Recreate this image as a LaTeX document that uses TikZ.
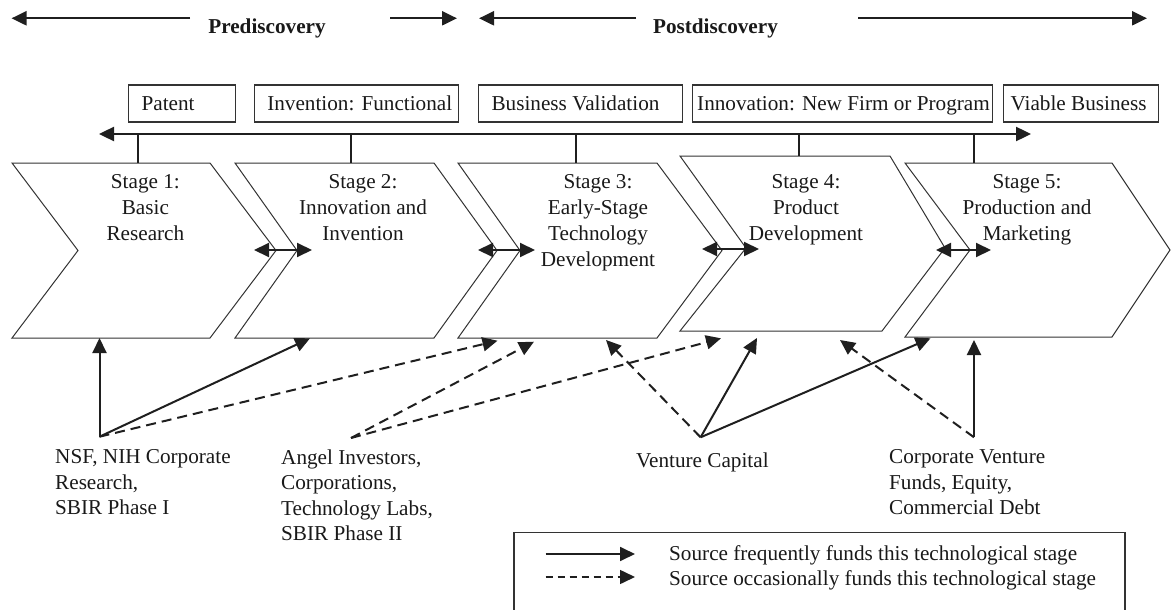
\documentclass[tikz,border=0pt]{standalone}
\usepackage{fontspec}
\setmainfont{Liberation Serif}
\usetikzlibrary{arrows.meta}
\begin{document}
\begin{tikzpicture}[x=1pt,y=-1pt,
  every node/.style={text=black!90},
  ink/.style={draw=black!88},
  tip/.style={-{Triangle[length=15pt,width=14pt]}},
  twotip/.style={{Triangle[length=15pt,width=14pt]}-{Triangle[length=15pt,width=14pt]}},
  often/.style={ink, line width=2pt, tip},
  sometimes/.style={ink, line width=2pt, tip, dash pattern=on 10pt off 6pt},
  stagebox/.style={draw=black!80, line width=1pt, line join=miter},
  milestone/.style={draw=black!80, line width=1.2pt, minimum height=37pt, inner ysep=0pt,
    text height=15pt, text depth=1pt, anchor=west, font=\fontsize{21.2}{25}\selectfont},
  stagetext/.style={font=\fontsize{21.2}{26.2}\selectfont, align=center, anchor=north,
    inner sep=0pt, execute at begin node=\strut},
  source/.style={font=\fontsize{21.2}{25.5}\selectfont, align=left, anchor=north west,
    inner sep=0pt, execute at begin node=\strut},
  heading/.style={font=\fontsize{21.2}{25}\selectfont\bfseries, anchor=base, inner sep=0pt},
  legendtext/.style={font=\fontsize{21.2}{25}\selectfont, anchor=base west, inner sep=0pt},
]
\useasboundingbox (0,0) rectangle (1171,610);

% ---- period headings ----
\node[heading] (pre) at (267,34) {Prediscovery};
\node[heading] (post) at (715.5,34) {Postdiscovery};
\coordinate (preA) at (190,18.3);   \coordinate (preAtip) at (11.5,18.3);
\coordinate (preB) at (390,18.3);   \coordinate (preBtip) at (457,18.3);
\coordinate (postA) at (636,18.3);  \coordinate (postAtip) at (479,18.3);
\coordinate (postB) at (858,18.3);  \coordinate (postBtip) at (1147,18.3);
\draw[ink, line width=2.2pt, tip] (preA) -- (preAtip);
\draw[ink, line width=2.2pt, tip] (preB) -- (preBtip);
\draw[ink, line width=2.2pt, tip] (postA) -- (postAtip);
\draw[ink, line width=2.2pt, tip] (postB) -- (postBtip);

% ---- milestones ----
\node[milestone, minimum width=107pt, inner xsep=13pt] (patent) at (128,103.5)
  {\makebox[81pt][l]{Patent}};
\node[milestone, minimum width=204pt, inner xsep=12.7pt] (invention) at (254,103.5)
  {\makebox[178.6pt][l]{Invention: Functional}};
\node[milestone, minimum width=204pt, inner xsep=13pt] (validation) at (478,103.5)
  {\makebox[178pt][l]{Business Validation}};
\node[milestone, minimum width=300.4pt, inner xsep=5pt] (innovation) at (691.6,103.5)
  {\makebox[290.4pt][l]{Innovation: New Firm or Program}};
\node[milestone, minimum width=155.5pt, inner xsep=7.5pt] (viable) at (1002.5,103.5)
  {\makebox[140.5pt][l]{Viable Business}};

% ---- timeline ----
\coordinate (lineL) at (99,134);
\coordinate (lineR) at (1031,134);
\draw[ink, line width=2.4pt, twotip] (lineL) -- (lineR);

% ---- stages ----
\draw[stagebox] (12,163) -- (210,163) -- (276,250.5) -- (210,338) -- (12,338) -- (78,250.5) -- cycle;
\draw[stagebox] (235,163) -- (434,163) -- (497,250.5) -- (434,338) -- (235,338) -- (297,250.5) -- cycle;
\draw[stagebox] (458,163) -- (657,163) -- (722,250.5) -- (657,338) -- (458,338) -- (520,250.5) -- cycle;
\draw[stagebox] (680,156) -- (890,156) -- (945,248) -- (882,331) -- (680,331) -- (746,248) -- cycle;
\draw[stagebox] (905,163) -- (1112,163) -- (1170,250) -- (1112,337) -- (905,337) -- (970,250) -- cycle;

\node[stagetext] (s1) at (145.4,174) {Stage 1:\\Basic\\Research};
\node[stagetext] (s2) at (363,174) {Stage 2:\\Innovation and\\Invention};
\node[stagetext] (s3) at (598,174) {Stage 3:\\Early-Stage\\Technology\\Development};
\node[stagetext] (s4) at (806,174) {Stage 4:\\Product\\Development};
\node[stagetext] (s5) at (1027,174) {Stage 5:\\Production and\\Marketing};

% ticks from the timeline to the stages
\foreach \x/\y [count=\i] in {138/163, 351/163, 576/163, 799/156, 974/163} {
  \coordinate (m\i) at (\x,134);
  \coordinate (t\i) at (\x,\y);
  \draw[ink, line width=1.1pt] (m\i) -- (t\i);
}

% hand-offs between stages
\coordinate (h1a) at (254,250);   \coordinate (h1b) at (312,250);
\coordinate (h2a) at (478,250);   \coordinate (h2b) at (535,250);
\coordinate (h3a) at (702,249);   \coordinate (h3b) at (759,249);
\coordinate (h4a) at (936,250);   \coordinate (h4b) at (991,250);
\draw[ink, line width=2pt, twotip] (h1a) -- (h1b);
\draw[ink, line width=2pt, twotip] (h2a) -- (h2b);
\draw[ink, line width=2pt, twotip] (h3a) -- (h3b);
\draw[ink, line width=2pt, twotip] (h4a) -- (h4b);

% ---- funding sources ----
\node[source] (nsf) at (55,449.5) {NSF, NIH Corporate\\Research,\\SBIR Phase I};
\node[source] (angel) at (281,449.5) {Angel Investors,\\Corporations,\\Technology Labs,\\SBIR Phase II};
\node[source] (vc) at (636,449.5) {Venture Capital};
\node[source] (cvf) at (889,449.5) {Corporate Venture\\Funds, Equity,\\Commercial Debt};

\coordinate (nsfO) at (99.5,436.7);
\coordinate (angelO) at (351,438);
\coordinate (vcO) at (700.6,437.3);
\coordinate (cvfO) at (974,437.3);

\coordinate (in1) at (99.5,338);
\coordinate (in2) at (310,338.3);
\coordinate (in3a) at (497.5,340.7);
\coordinate (in3b) at (534,341.7);
\coordinate (in3c) at (606,340);
\coordinate (in4a) at (721,338.3);
\coordinate (in4b) at (757,338);
\coordinate (in4c) at (840,340);
\coordinate (in5a) at (930.5,338.3);
\coordinate (in5b) at (974,340);

\draw[often] (nsfO) -- (in1);
\draw[often] (nsfO) -- (in2);
\draw[sometimes] (nsfO) -- (in3a);
\draw[sometimes] (angelO) -- (in3b);
\draw[sometimes] (angelO) -- (in4a);
\draw[sometimes] (vcO) -- (in3c);
\draw[often] (vcO) -- (in4b);
\draw[often] (vcO) -- (in5a);
\draw[often] (cvfO) -- (in5b);
\draw[sometimes] (cvfO) -- (in4c);

% ---- legend ----
\draw[draw=black!80, line width=1.2pt] (514,612) |- (1125,532.5) -- (1125,612);
\coordinate (keyA) at (545.7,554);  \coordinate (keyAtip) at (635,554);
\coordinate (keyB) at (545.7,577);  \coordinate (keyBtip) at (635,577);
\draw[ink, line width=1.8pt, tip] (keyA) -- (keyAtip);
\draw[ink, line width=1.6pt, tip, dash pattern=on 7pt off 5pt] (keyB) -- (keyBtip);
\node[legendtext] (keyAtext) at (669,560.5) {Source frequently funds this technological stage};
\node[legendtext] (keyBtext) at (669,585.5) {Source occasionally funds this technological stage};
\end{tikzpicture}
\end{document}
